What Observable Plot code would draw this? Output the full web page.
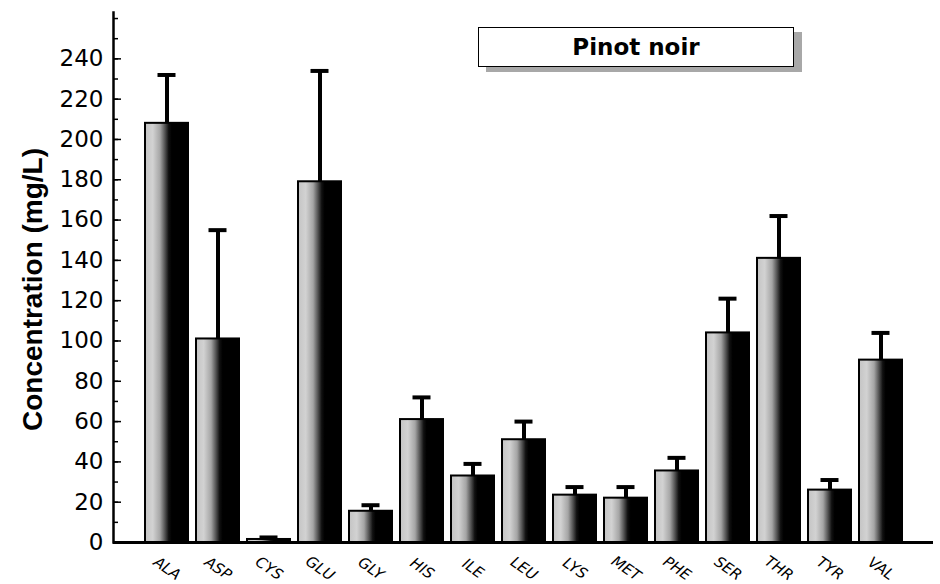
<!DOCTYPE html>
<html><head><meta charset="utf-8">
<script src="https://cdn.jsdelivr.net/npm/d3@7"></script>
<script src="https://cdn.jsdelivr.net/npm/@observablehq/plot@0.6"></script>
<style>
body{margin:0;background:#fff;}
#wrap{position:relative;width:940px;height:584px;}
#legend{position:absolute;left:478px;top:27px;width:314px;height:38px;border:1.5px solid #000;background:#fff;box-shadow:8px 5px 0 #a8a8a8;font:bold 23px "DejaVu Sans";display:flex;align-items:center;justify-content:center;color:#000;}
</style></head>
<body><div id="wrap"><div id="legend">Pinot noir</div></div>
<script>
const aminoAcids = ["ALA","ASP","CYS","GLU","GLY","HIS","ILE","LEU","LYS","MET","PHE","SER","THR","TYR","VAL"];
const meanValues = [208, 101, 1.5, 179, 15.5, 61, 33, 51, 23.5, 22, 35.5, 104, 141, 26, 90.5];
const errorTops  = [232, 155, 2.5, 234, 18.5, 72, 39, 60, 27.5, 27.5, 42, 121, 162, 31, 104];
const yTicks = d3.range(0, 241, 20);
const yMinorTicks = d3.range(0, 261, 10);
const yLabel = "Concentration (mg/L)";

const data = aminoAcids.map((a, i) => ({acid: a, value: meanValues[i], upper: errorTops[i]}));

const plot = Plot.plot({
  width: 940, height: 584,
  marginLeft: 113, marginRight: 7, marginTop: 12, marginBottom: 42,
  x: {domain: aminoAcids, paddingInner: 0.162, paddingOuter: 0.54, axis: null},
  y: {domain: [0, 263], axis: null},
  style: {background: "transparent", color: "#000"},
  marks: [
    Plot.barY(data, {x: "acid", y: "value", fill: "url(#barGrad)", stroke: "#000", strokeWidth: 2}),
    Plot.ruleX(data, {x: "acid", y1: "value", y2: "upper", stroke: "#000", strokeWidth: 4}),
    Plot.tickY(data, {x: "acid", y: "upper", stroke: "#000", strokeWidth: 4, insetLeft: 12.5, insetRight: 12.5}),
    Plot.axisY({ticks: yMinorTicks, anchor: "left", tickSize: -5, tickFormat: () => "", strokeWidth: 1.5, label: null}),
    Plot.axisY({ticks: yTicks, anchor: "left", tickSize: -8, tickPadding: 18, fontSize: 23, fontFamily: "DejaVu Sans", strokeWidth: 1.5, label: null}),
    Plot.text([yLabel], {frameAnchor: "left", textAnchor: "middle", rotate: -90, dx: -80, dy: 12, fontSize: 28, fontWeight: "bold", fontFamily: "Liberation Sans", fill: "#000"}),
    Plot.text(data, {x: "acid", y: d => 0, text: "acid", dy: 26, rotate: 35, fontSize: 15, fontStyle: "italic", fontFamily: "DejaVu Sans", fill: "#000"}),
    Plot.ruleY([0], {stroke: "#000", strokeWidth: 3}),
    Plot.frame({anchor: "left", stroke: "#000", strokeWidth: 2.5})
  ]
});

const svg = d3.select(plot);
const defs = svg.insert("defs", ":first-child");
const grad = defs.append("linearGradient").attr("id", "barGrad")
  .attr("x1", 0).attr("x2", 1).attr("y1", 0).attr("y2", 0);
[[0, "#c4c4c4"], [0.18, "#d2d2d2"], [0.35, "#a5a5a5"], [0.46, "#555"], [0.55, "#111"], [0.62, "#000"], [1, "#000"]]
  .forEach(([o, c]) => grad.append("stop").attr("offset", o).attr("stop-color", c));

document.getElementById("wrap").insertBefore(plot, document.getElementById("legend"));
plot.style.position = "absolute";
plot.style.left = "0";
plot.style.top = "0";
</script>
</body></html>
